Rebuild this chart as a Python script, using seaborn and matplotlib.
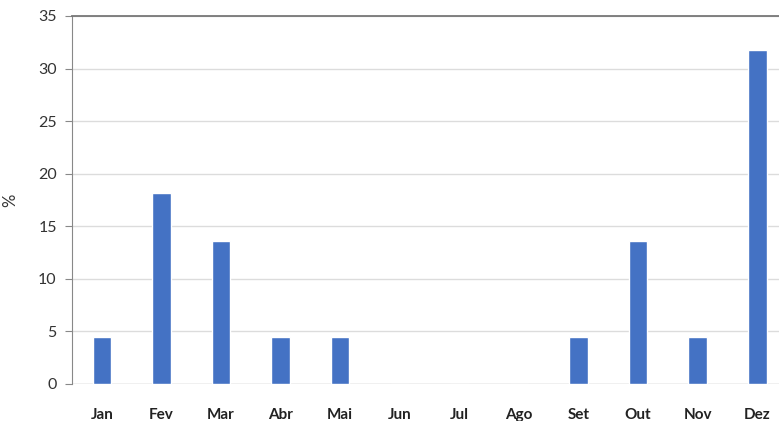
import matplotlib
matplotlib.use('Agg')
import matplotlib.pyplot as plt
import seaborn as sns
import pandas as pd

months = ['Jan', 'Fev', 'Mar', 'Abr', 'Mai', 'Jun', 'Jul', 'Ago', 'Set', 'Out', 'Nov', 'Dez']
percent = [4.5, 18.2, 13.6, 4.5, 4.5, 0, 0, 0, 4.5, 13.6, 4.5, 31.8]
yticks = [0, 5, 10, 15, 20, 25, 30, 35]

df = pd.DataFrame({'mes': months, 'pct': percent})

sns.set_style('white')
plt.rcParams['font.family'] = ['Lato', 'DejaVu Sans']

fig = plt.figure(figsize=(7.79, 4.21), dpi=100)
ax = fig.add_axes([0.0924, 0.088, 0.918, 0.874])

# Bar plot of monthly distribution
sns.barplot(x='mes', y='pct', data=df, color='#4472C4', saturation=1, width=0.31, ax=ax)

ax.set_ylim(0, 35)
ax.set_xlim(-0.5, 11.5)
ax.set_yticks(yticks)
ax.yaxis.grid(True, color='#dcdcdc', linewidth=1)
ax.set_axisbelow(True)
ax.set_xlabel('')
ax.set_ylabel('%', fontsize=12, color='#333333', labelpad=14)

for s in ['right', 'bottom']:
    ax.spines[s].set_visible(False)
ax.spines['left'].set_color('#888888')
ax.spines['top'].set_color('#777777')
ax.spines['top'].set_linewidth(1.3)
ax.axhline(0, color='#cccccc', linewidth=1, zorder=0)

ax.tick_params(axis='y', which='major', left=True, length=5, color='#888888',
               labelsize=11.5, labelcolor='#333333', pad=6)
ax.tick_params(axis='x', bottom=False, labelsize=11, labelcolor='#222222', pad=14)
for lbl in ax.get_xticklabels():
    lbl.set_fontweight('bold')

fig.savefig('out.png', dpi=100)
